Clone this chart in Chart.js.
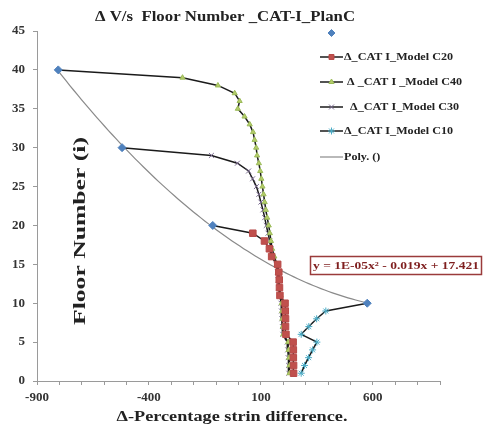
<!DOCTYPE html>
<html>
<head>
<meta charset="utf-8">
<script src="https://cdn.jsdelivr.net/npm/chart.js@4.4.0/dist/chart.umd.min.js"></script>
<style>
html,body{margin:0;padding:0;background:#fff;}
#wrap{width:483px;height:429px;position:relative;}
</style>
</head>
<body>
<div id="wrap"><canvas id="c" width="483" height="429"></canvas></div>
<script>
// ---- data ----
const floors = [1,2,3,4,5,6,7,8,9,10,11,12,13,14,15,16,17,18,19,20,21,22,23,24,25,26,27,28,29,30,31,32,33,34,35,36,37,38,39,40];
const topX = [-805, -520, -115, 575];
const topY = [40, 30, 20, 10];
const c20X = [246,246,245,245,244,212,210,210,209,208,185,183,182,180,175,148,138,116,64,-115];
const c40X = [228,228,226,224,222,200,198,196,195,193,188,184,180,178,172,160,150,145,140,135,128,122,117,112,107,102,97,91,83,79,72,65,50,27,-3,5,-17,-92,-250,-805];
const c30X = [225,224,222,220,218,198,196,194,192,190,184,180,177,175,168,150,145,139,132,124,117,109,100,91,80,63,45,-5,-121,-520];
const c10X = [280,295,313,331,350,280,314,349,390,575];
const seriesLabels = ['', 'Δ_CAT I_Model C20', ' Δ _CAT I _Model C40', '  Δ_CAT I_Model C30', 'Δ_CAT I_Model C10', 'Poly. ()'];
const xTickLabels = [-900, -400, 100, 600];
const titleText = 'Δ V/s  Floor Number _CAT-I_PlanC';
const xTitle = 'Δ-Percentage strin difference.';
const yTitle = 'Floor Number (i)';
const eqText = 'y = 1E-05x² - 0.019x + 17.421';

function pts(xs){ return xs.map((x,i)=>({x:x, y:floors[i]})); }

// quadratic least-squares trendline of the top-floor points (as the Excel "Poly." trendline)
function polyFit(xs, ys){
  let S=[0,0,0,0,0], T=[0,0,0];
  for(let i=0;i<xs.length;i++){
    let p=1;
    for(let k=0;k<5;k++){ S[k]+=p; if(k<3) T[k]+=p*ys[i]; p*=xs[i]; }
  }
  const A=[[S[0],S[1],S[2],T[0]],[S[1],S[2],S[3],T[1]],[S[2],S[3],S[4],T[2]]];
  for(let i=0;i<3;i++){
    let m=i; for(let r=i+1;r<3;r++) if(Math.abs(A[r][i])>Math.abs(A[m][i])) m=r;
    [A[i],A[m]]=[A[m],A[i]];
    for(let r=0;r<3;r++){ if(r===i) continue; const f=A[r][i]/A[i][i]; for(let c=i;c<4;c++) A[r][c]-=f*A[i][c]; }
  }
  return [A[0][3]/A[0][0], A[1][3]/A[1][1], A[2][3]/A[2][2]];
}
const coef = polyFit(topX, topY);
const trend = [];
{
  const lo = Math.min(...topX), hi = Math.max(...topX), n = 80;
  for(let i=0;i<=n;i++){ const x = lo + (hi-lo)*i/n; trend.push({x:x, y:coef[0]+coef[1]*x+coef[2]*x*x}); }
}

const SERIF = '"Liberation Serif", "DejaVu Serif", serif';

function stretchText(ctx, text, cx, cy, font, targetW, rot, color){
  ctx.save();
  ctx.translate(cx, cy);
  if(rot) ctx.rotate(-Math.PI/2);
  ctx.font = font;
  const w = ctx.measureText(text).width;
  ctx.scale(targetW / w, 1);
  ctx.fillStyle = color || '#222';
  ctx.textAlign = 'center';
  ctx.textBaseline = 'middle';
  ctx.fillText(text, 0, 0);
  ctx.restore();
}

const decor = {
  id: 'decor',
  afterDraw(chart){
    const ctx = chart.ctx;
    stretchText(ctx, titleText, 225, 17, 'bold 15px ' + SERIF, 260, false);
    stretchText(ctx, xTitle, 232, 417, 'bold 15px ' + SERIF, 231, false);
    stretchText(ctx, yTitle, 81, 231, 'bold 16px ' + SERIF, 188, true);
    // equation box
    ctx.save();
    ctx.fillStyle = '#fff';
    ctx.fillRect(310.5, 256.5, 171, 18);
    ctx.strokeStyle = '#9a3b3b';
    ctx.lineWidth = 1.5;
    ctx.strokeRect(310.5, 256.5, 171, 18);
    ctx.restore();
    stretchText(ctx, eqText, 396, 266, 'bold 11px ' + SERIF, 166, false, '#7f1f1f');
    // legend
    const rows = [33, 57, 82, 107, 131, 157];
    ctx.save();
    ctx.font = 'bold 11px ' + SERIF;
    const sx = 109 / ctx.measureText(seriesLabels[1]).width;
    chart.data.datasets.forEach((ds, i) => {
      const y = rows[i];
      if(ds.showLine !== false){
        ctx.save();
        ctx.strokeStyle = ds.borderColor; ctx.lineWidth = ds.borderWidth;
        ctx.beginPath(); ctx.moveTo(320, y); ctx.lineTo(343, y); ctx.stroke();
        ctx.restore();
      }
      const r = ds.legendRadius;
      if(r > 0){
        ctx.save();
        ctx.fillStyle = ds.pointBackgroundColor; ctx.strokeStyle = ds.pointBorderColor;
        ctx.lineWidth = ds.pointBorderWidth || 1;
        Chart.helpers.drawPoint(ctx, {pointStyle: ds.pointStyle, radius: r, rotation: 0, borderWidth: ds.pointBorderWidth || 1}, 331.5, y);
        ctx.restore();
      }
      if(ds.label){
        ctx.save();
        ctx.translate(344, y);
        ctx.scale(sx, 1);
        ctx.fillStyle = '#222';
        ctx.textAlign = 'left'; ctx.textBaseline = 'middle';
        ctx.fillText(ds.label, 0, 0);
        ctx.restore();
      }
    });
    ctx.restore();
  }
};

// the top-floor point of each series is marked by the blue diamond series
const hideTop = (r) => (c) => (c.dataIndex === c.dataset.data.length - 1 ? 0 : r);

const LINE = '#1a1a1a';
new Chart(document.getElementById('c'), {
  type: 'scatter',
  data: {
    datasets: [
      { label: seriesLabels[0], data: topX.map((x,i)=>({x:x,y:topY[i]})), showLine:false, legendRadius:3.5,
        pointStyle:'rectRot', pointRadius:4, pointBackgroundColor:'#4f81bd', pointBorderColor:'#4f81bd', pointBorderWidth:1, borderColor:'#4f81bd', borderWidth:1 },
      { label: seriesLabels[1], data: pts(c20X), showLine:true, borderColor:LINE, borderWidth:1.5, legendRadius:3.5,
        pointStyle:'rect', pointRadius:hideTop(4.6), pointBackgroundColor:'#c0504d', pointBorderColor:'#b84a48', pointBorderWidth:1 },
      { label: seriesLabels[2], data: pts(c40X), showLine:true, borderColor:LINE, borderWidth:1.5, legendRadius:3,
        pointStyle:'triangle', pointRadius:hideTop(3), pointBackgroundColor:'#b5cc6a', pointBorderColor:'#9bbb59', pointBorderWidth:1 },
      { label: seriesLabels[3], data: pts(c30X), showLine:true, borderColor:LINE, borderWidth:1.5, legendRadius:3.5,
        pointStyle:'crossRot', pointRadius:hideTop(3.5), pointBackgroundColor:'#7a6a90', pointBorderColor:'#7a6a90', pointBorderWidth:1 },
      { label: seriesLabels[4], data: pts(c10X), showLine:true, borderColor:LINE, borderWidth:1.5, legendRadius:3.5,
        pointStyle:'star', pointRadius:hideTop(3.5), pointBackgroundColor:'#4bacc6', pointBorderColor:'#4bacc6', pointBorderWidth:1 },
      { label: seriesLabels[5], data: trend, showLine:true, borderColor:'#8a8a8a', borderWidth:1.2, legendRadius:0,
        pointRadius:0, pointHoverRadius:0, pointBackgroundColor:'#8a8a8a', pointBorderColor:'#8a8a8a', tension:0 }
    ]
  },
  options: {
    responsive: false,
    animation: false,
    devicePixelRatio: 1,
    layout: { padding: { left: 0, right: 43, top: 31, bottom: 0 } },
    plugins: { legend: { display: false }, tooltip: { enabled: false }, title: { display: false } },
    scales: {
      x: {
        type: 'linear', min: -900, max: 900,
        afterFit(s){ s.height = 48; },
        border: { display: true, color: '#9a9a9a', width: 1 },
        grid: { display: true, drawOnChartArea: false, drawTicks: true, tickLength: 4, color: '#9a9a9a' },
        ticks: { stepSize: 100, autoSkip: false, maxRotation: 0, padding: 5, color: '#333',
          font: { family: SERIF, size: 13, weight: 'bold' },
          callback: (v) => xTickLabels.includes(v) ? String(v) : '' }
      },
      y: {
        type: 'linear', min: 0, max: 45,
        afterFit(s){ s.width = 37; },
        border: { display: true, color: '#9a9a9a', width: 1 },
        grid: { display: true, drawOnChartArea: false, drawTicks: true, tickLength: 4, color: '#9a9a9a' },
        ticks: { stepSize: 5, padding: 8, color: '#333', font: { family: SERIF, size: 13, weight: 'bold' } }
      }
    }
  },
  plugins: [decor]
});
</script>
</body>
</html>
